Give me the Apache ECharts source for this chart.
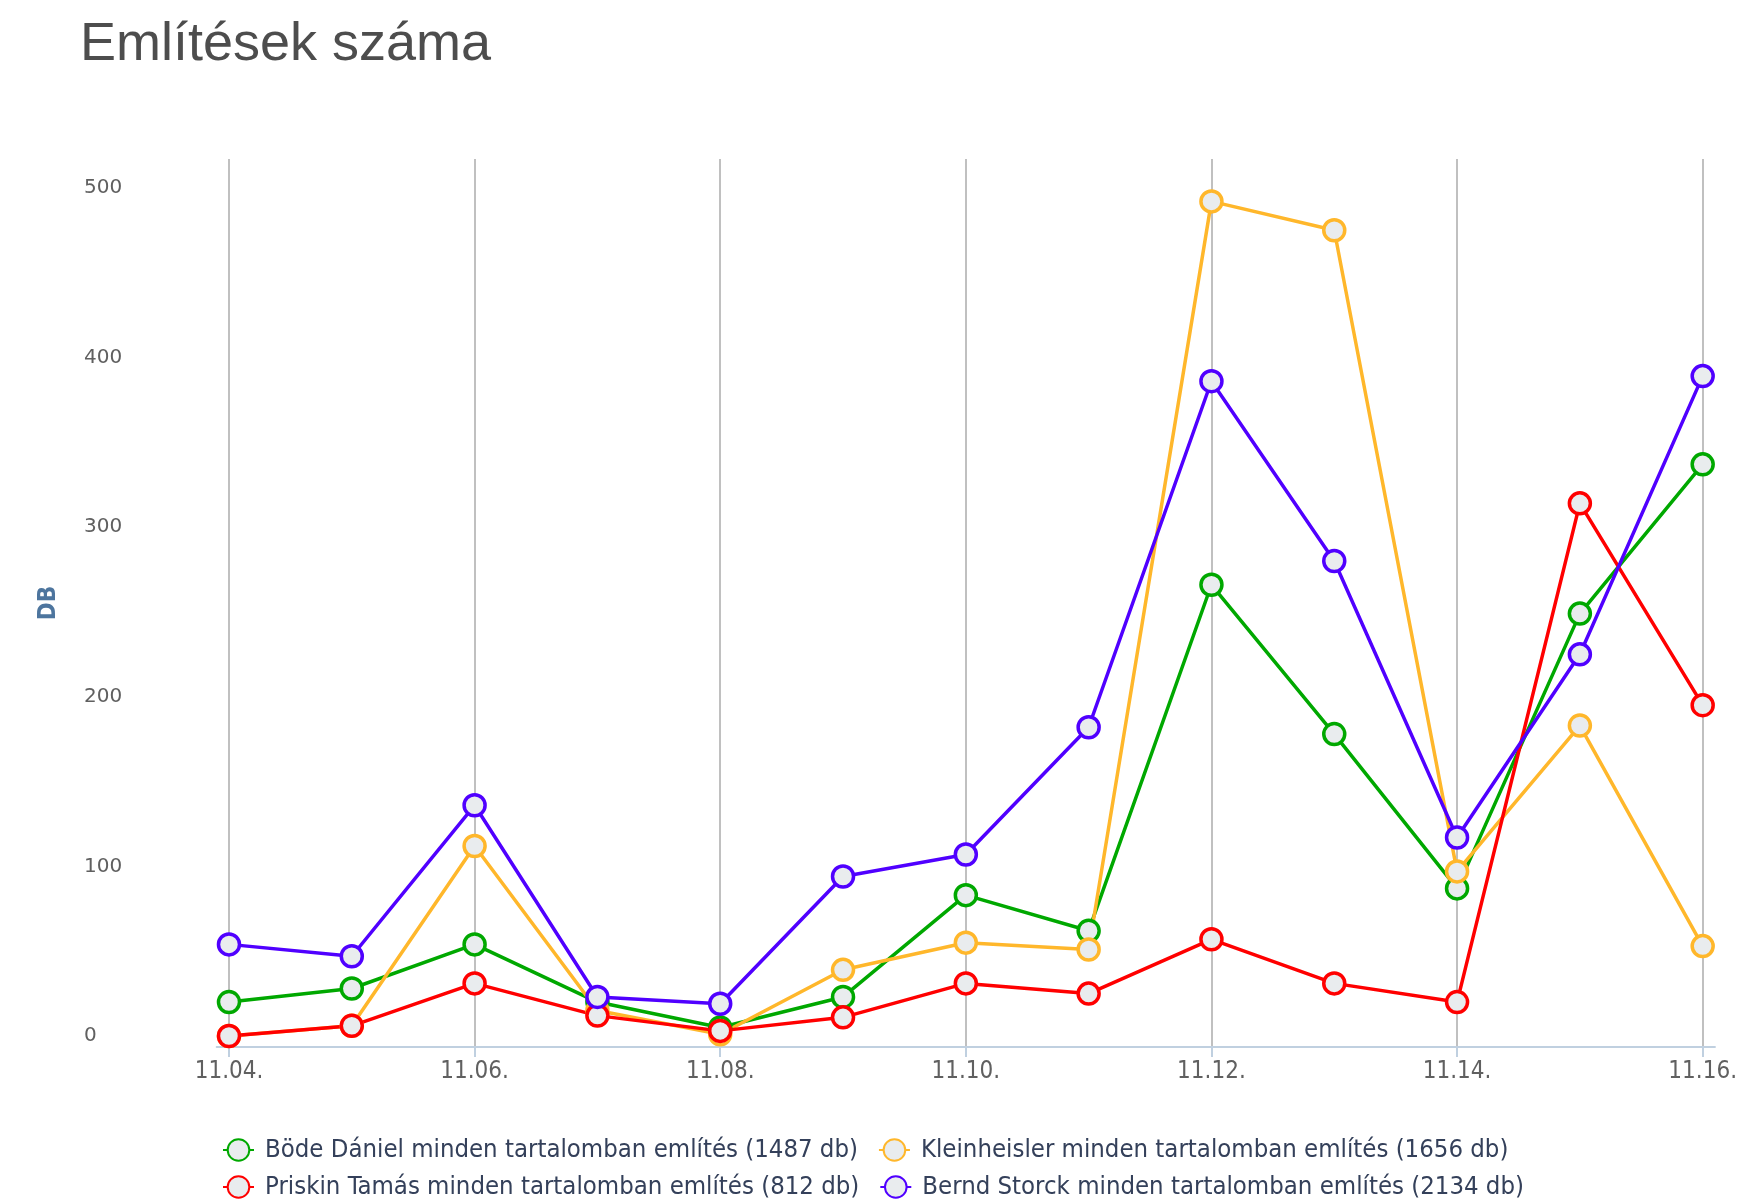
<!DOCTYPE html>
<html>
<head>
<meta charset="utf-8">
<script src="https://cdn.jsdelivr.net/npm/echarts@6/dist/echarts.min.js"></script>
<style>
html,body{margin:0;padding:0;background:#fff;}
#chart{width:1740px;height:1200px;}
</style>
</head>
<body>
<div id="chart"></div>
<script>
const categories = ['11.04.','11.05.','11.06.','11.07.','11.08.','11.09.','11.10.','11.11.','11.12.','11.13.','11.14.','11.15.','11.16.'];
const xTickIndexes = [0, 2, 4, 6, 8, 10, 12];
const yTickValues = [0, 100, 200, 300, 400, 500];
const seriesNames = [
  'Böde Dániel minden tartalomban említés (1487 db)',
  'Kleinheisler minden tartalomban említés (1656 db)',
  'Priskin Tamás minden tartalomban említés (812 db)',
  'Bernd Storck minden tartalomban említés (2134 db)'
];
const bode = [20, 28, 54, 20, 5, 23, 83, 62, 266, 178, 87, 249, 337];
const kleinheisler = [0, 6, 112, 15, 1, 39, 55, 51, 492, 475, 97, 183, 53];
const priskin = [0, 6, 31, 12, 3, 11, 31, 25, 57, 31, 20, 314, 195];
const storck = [54, 47, 136, 23, 19, 94, 107, 182, 386, 280, 117, 225, 389];
const colors = ['#00a800', '#ffb72b', '#ff0000', '#5000ff'];

const allValues = [bode, kleinheisler, priskin, storck];
const chart = echarts.init(document.getElementById('chart'), null, {renderer: 'canvas'});

const series = allValues.map((vals, k) => ({
  name: seriesNames[k],
  type: 'line',
  data: vals.map((v, i) => [i, v]),
  symbol: 'circle',
  symbolSize: 21,
  color: colors[k],
  lineStyle: {width: 3.5, color: colors[k]},
  itemStyle: {color: '#e9ecee', borderColor: colors[k], borderWidth: 3.5},
  emphasis: {disabled: true},
  animation: false
}));

const legendCommon = {
  left: 222,
  orient: 'horizontal',
  padding: 0,
  itemWidth: 31,
  itemHeight: 27,
  itemGap: 20,
  textStyle: {
    fontFamily: 'DejaVu Sans Condensed',
    fontSize: 25.5,
    color: '#34405a',
    padding: [0, 0, 0, 6]
  }
};

chart.setOption({
  animation: false,
  title: {
    text: 'Említések száma',
    left: 75,
    top: 13,
    textStyle: {fontFamily: 'Liberation Sans', fontSize: 54, fontWeight: 'normal', color: '#4d4d4d'}
  },
  legend: [
    Object.assign({}, legendCommon, {top: 1137, data: [seriesNames[0], seriesNames[1]]}),
    Object.assign({}, legendCommon, {top: 1174, data: [seriesNames[2], seriesNames[3]]})
  ],
  grid: {left: 216.7, right: 22.7, top: 159, bottom: 153, containLabel: false},
  xAxis: {
    type: 'value',
    min: -0.1,
    max: 12.1,
    axisLine: {show: true, onZero: false, lineStyle: {color: '#c0d0e0', width: 2}},
    axisTick: {show: true, length: 10, lineStyle: {color: '#c0d0e0', width: 2}, customValues: xTickIndexes},
    axisLabel: {
      customValues: xTickIndexes,
      formatter: v => categories[Math.round(v)] || '',
      fontFamily: 'DejaVu Sans Condensed',
      fontSize: 24,
      color: '#606060',
      margin: 13
    },
    splitLine: {show: true, lineStyle: {color: '#c0c0c0', width: 2}}
  },
  yAxis: {
    type: 'value',
    min: -6.5,
    max: 517,
    name: 'DB',
    nameLocation: 'middle',
    nameRotate: 90,
    nameGap: 156,
    nameTextStyle: {fontFamily: 'DejaVu Sans Condensed', fontWeight: 'bold', fontSize: 24, color: '#4d759e'},
    axisLine: {show: false},
    axisTick: {show: false},
    splitLine: {show: false},
    axisLabel: {
      customValues: yTickValues,
      align: 'left',
      margin: 132.7,
      fontFamily: 'DejaVu Sans',
      fontSize: 20,
      color: '#606060',
      padding: [0, 0, 6, 0]
    }
  },
  series: series
});
</script>
</body>
</html>
